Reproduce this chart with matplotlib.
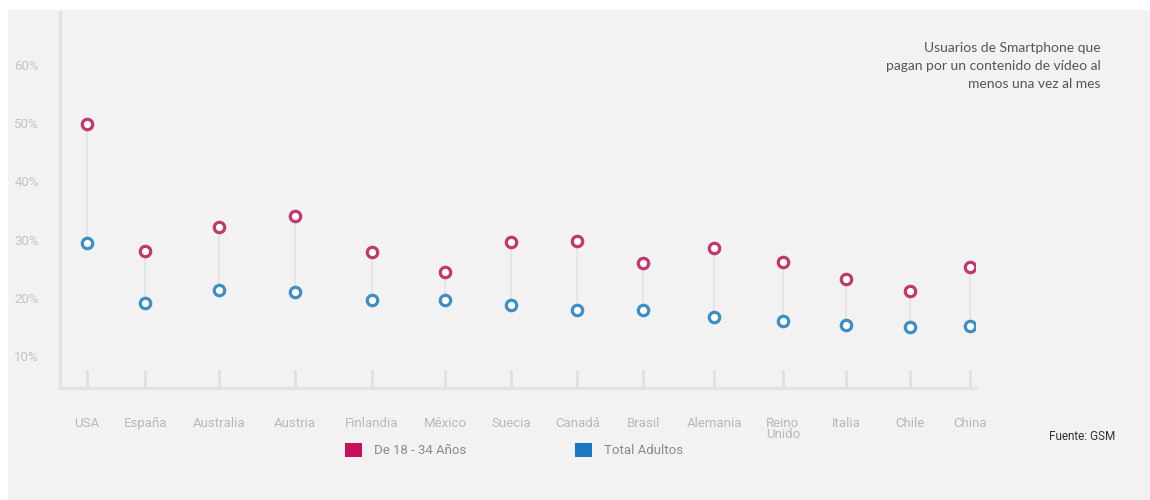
import matplotlib
matplotlib.use("Agg")
import matplotlib.pyplot as plt
from matplotlib.patches import Patch, Rectangle
import numpy as np

# data
countries = ["USA", "España", "Australia", "Austria", "Finlandia", "México", "Suecia",
             "Canadá", "Brasil", "Alemania", "Reino\nUnido", "Italia", "Chile", "China"]
young = [49.8, 28.0, 32.2, 34.1, 27.9, 24.5, 29.6, 29.8, 26.0, 28.6, 26.2, 23.3, 21.2, 25.3]
adults = [29.4, 19.1, 21.3, 21.0, 19.6, 19.6, 18.7, 17.9, 17.9, 16.7, 16.0, 15.3, 15.0, 15.2]
yticks = [10, 20, 30, 40, 50, 60]

pink = "#c2376c"
blue = "#3d8ec4"
bg = "#f2f2f2"

# categories spaced by the width of their labels, like the original
widths = np.array([max(len(s) for s in c.split("\n")) for c in countries], dtype=float)
gaps = (widths[:-1] + widths[1:]) / 2 * 5 + 33.5
x = np.concatenate([[0], np.cumsum(gaps)])
x = x / x[-1] * 13

fig = plt.figure(figsize=(11.5, 5), dpi=100, facecolor="white")
fig.patches.append(Rectangle((0.007, 0.0), 0.993, 0.98, transform=fig.transFigure,
                             facecolor=bg, edgecolor="none", zorder=-10))
ax = fig.add_axes([0.052, 0.224, 0.796, 0.752])
ax.set_facecolor(bg)

ax.vlines(x, adults, young, color="#e2e2e2", linewidth=1.1, zorder=1)
ax.plot(x, young, "o", ms=7.5, mfc="white", mec=pink, mew=2.3, zorder=3)
ax.plot(x, adults, "o", ms=7.5, mfc="white", mec=blue, mew=2.3, zorder=3)

ax.set_xlim(-0.40, 13.07)
ax.set_ylim(4.5, 69.1)
ax.set_yticks(yticks)
ax.set_yticklabels([f"{v}%" for v in yticks], family="Roboto", fontsize=9.5, color="#c4c4c4")
ax.set_xticks(x)
ax.set_xticklabels(countries, family="Roboto", fontsize=9.5, color="#b8b8b8", linespacing=0.8)
ax.tick_params(axis="y", length=0, pad=15)
ax.tick_params(axis="x", direction="in", length=13, width=1.8, color="#dedede", pad=21)

for s in ["top", "right"]:
    ax.spines[s].set_visible(False)
for s in ["left", "bottom"]:
    ax.spines[s].set_color("#e2e2e2")
    ax.spines[s].set_linewidth(2.2)

fig.text(0.957, 0.868, "Usuarios de Smartphone que\npagan por un contenido de vídeo al\nmenos una vez al mes",
         ha="right", va="center", family="Lato", fontsize=10, color="#555555", linespacing=1.6)
fig.text(0.912, 0.126, "Fuente: GSM", ha="left", va="center", family="Roboto",
         fontsize=8.5, color="#333333")

handles = [Patch(facecolor="#c8105a", edgecolor="none", label="De 18 - 34 Años"),
           Patch(facecolor="#1a78c2", edgecolor="none", label="Total Adultos")]
leg = fig.legend(handles=handles, loc="center", bbox_to_anchor=(0.447, 0.1), ncol=2,
                 frameon=False, handlelength=1.3, handleheight=1.3, columnspacing=8.2,
                 handletextpad=0.9, prop={"family": "Roboto", "size": 9.5})
for t in leg.get_texts():
    t.set_color("#8a8a8a")

fig.savefig("out.png", dpi=100, facecolor=fig.get_facecolor())
